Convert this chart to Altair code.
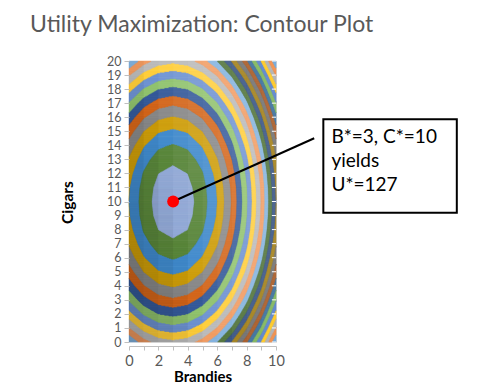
import altair as alt
import numpy as np
import pandas as pd

# ---------------- data ----------------
brandies = list(range(0, 11))          # x grid (B)
cigars = list(range(0, 21))            # y grid (C)
# utility on the grid, one row per cigars value (C = 0 .. 20), columns B = 0 .. 10
utility = [
    [0, 15, 24, 27, 24, 15, 0, -21, -48, -81, -120],
    [19, 34, 43, 46, 43, 34, 19, -2, -29, -62, -101],
    [36, 51, 60, 63, 60, 51, 36, 15, -12, -45, -84],
    [51, 66, 75, 78, 75, 66, 51, 30, 3, -30, -69],
    [64, 79, 88, 91, 88, 79, 64, 43, 16, -17, -56],
    [75, 90, 99, 102, 99, 90, 75, 54, 27, -6, -45],
    [84, 99, 108, 111, 108, 99, 84, 63, 36, 3, -36],
    [91, 106, 115, 118, 115, 106, 91, 70, 43, 10, -29],
    [96, 111, 120, 123, 120, 111, 96, 75, 48, 15, -24],
    [99, 114, 123, 126, 123, 114, 99, 78, 51, 18, -21],
    [100, 115, 124, 127, 124, 115, 100, 79, 52, 19, -20],
    [99, 114, 123, 126, 123, 114, 99, 78, 51, 18, -21],
    [96, 111, 120, 123, 120, 111, 96, 75, 48, 15, -24],
    [91, 106, 115, 118, 115, 106, 91, 70, 43, 10, -29],
    [84, 99, 108, 111, 108, 99, 84, 63, 36, 3, -36],
    [75, 90, 99, 102, 99, 90, 75, 54, 27, -6, -45],
    [64, 79, 88, 91, 88, 79, 64, 43, 16, -17, -56],
    [51, 66, 75, 78, 75, 66, 51, 30, 3, -30, -69],
    [36, 51, 60, 63, 60, 51, 36, 15, -12, -45, -84],
    [19, 34, 43, 46, 43, 34, 19, -2, -29, -62, -101],
    [0, 15, 24, 27, 24, 15, 0, -21, -48, -81, -120],
]
band_edges = list(range(-120, 131, 10))     # contour levels
band_colors = [
    "#5B9BD5", "#ED7D31", "#A5A5A5", "#FFC000", "#4472C4", "#70AD47",
    "#255E91", "#9E480E", "#636363", "#997300", "#264478", "#43682B",
    "#7CAFDD", "#F1975A", "#B7B7B7", "#FFCD33", "#698ED0", "#8CC168",
    "#2F5597", "#D26012", "#848484", "#CC9A00", "#3A86CB", "#548235",
    "#8FA6D4",
]
optimum_b = [3]
optimum_c = [10]
callout_text = ["B*=3, C*=10", "yields", "U*=127"]
title_text = "Utility Maximization: Contour Plot"

# ---------------- build contour bands (linear interpolation of the grid) ----------------
U = np.array(utility, dtype=float)
band_names = [f"{band_edges[k]} - {band_edges[k + 1]}" for k in range(len(band_edges) - 1)]
nb = len(band_names)
dx_s = 0.005
xs = np.arange(0, 10, dx_s) + dx_s / 2
row_h = 0.05
nrows = int(round(20 / row_h))
recs = []
for k in range(nrows):
    c0 = k * row_h
    c1 = c0 + row_h
    cm = (c0 + c1) / 2
    j = min(int(np.floor(cm)), 19)
    t = cm - j
    rowvals = U[j] * (1 - t) + U[j + 1] * t
    vals = np.interp(xs, brandies, rowvals)
    idx = np.clip(np.floor((vals - band_edges[0]) / 10).astype(int), 0, nb - 1)
    change = np.nonzero(np.diff(idx))[0]
    starts = np.r_[0, change + 1]
    ends = np.r_[change + 1, len(xs)]
    for s, e in zip(starts, ends):
        recs.append({"b0": s * dx_s, "b1": e * dx_s, "c0": c0, "c1": c1,
                     "band": band_names[idx[s]]})
bands_df = pd.DataFrame(recs)

# surface lighting per grid cell (Excel's 3-D shading of the contour surface)
shade = []
for j in range(len(cigars) - 1):
    for i in range(len(brandies) - 1):
        dB = ((U[j, i + 1] - U[j, i]) + (U[j + 1, i + 1] - U[j + 1, i])) / 2
        dC = ((U[j + 1, i] - U[j, i]) + (U[j + 1, i + 1] - U[j, i + 1])) / 2
        s = np.tanh(-(dB + 0.6 * dC) / 20)
        s = 0.17 * s if s > 0 else 0.22 * s
        shade.append({"b0": brandies[i], "b1": brandies[i + 1], "c0": cigars[j],
                      "c1": cigars[j + 1], "col": "white" if s > 0 else "black",
                      "op": float(abs(s))})
shade_df = pd.DataFrame(shade)

FONT = "Lato"
xscale = alt.Scale(domain=[0, 10], nice=False, zero=False)
yscale = alt.Scale(domain=[0, 20], nice=False, zero=False)

x_axis = alt.Axis(values=brandies, labelExpr="datum.value % 2 == 0 ? datum.label : ''",
                  grid=False, offset=4, tickSize=4, tickColor="#BFBFBF",
                  domainColor="#BFBFBF", labelFont=FONT, labelFontSize=14.5,
                  labelColor="#595959", labelPadding=4, labelFlush=False,
                  labelOverlap=False, title="Brandies", titleFont=FONT,
                  titleFontSize=15, titleFontWeight="bold", titleColor="black",
                  titleX=73.5, titleY=35, titleBaseline="alphabetic", titleAlign="center",
                  zindex=1)
y_axis = alt.Axis(values=cigars, grid=False, domain=False, tickSize=5,
                  tickColor="#BFBFBF", labelFont=FONT, labelFontSize=12.5,
                  labelColor="#595959", labelPadding=3, labelFlush=False,
                  labelOverlap=False, title="Cigars", titleFont=FONT,
                  titleFontSize=15.5, titleFontWeight="bold", titleColor="black",
                  titleX=-62, titleY=141, titleAngle=270, titleBaseline="middle",
                  titleAlign="center", zindex=1)

X = lambda f: alt.X(f, scale=xscale, axis=x_axis)
Y = lambda f: alt.Y(f, scale=yscale, axis=y_axis)

contours = alt.Chart(bands_df).mark_rect(strokeWidth=0.5).encode(
    x=X("b0:Q"), x2="b1",
    y=Y("c0:Q"), y2="c1",
    color=alt.Color("band:N", scale=alt.Scale(domain=band_names, range=band_colors), legend=None),
    stroke=alt.Stroke("band:N", scale=alt.Scale(domain=band_names, range=band_colors), legend=None),
)

lighting = alt.Chart(shade_df).mark_rect().encode(
    x=X("b0:Q"), x2="b1",
    y=Y("c0:Q"), y2="c1",
    color=alt.Color("col:N", scale=None),
    opacity=alt.Opacity("op:Q", scale=None),
)

edge_df = pd.DataFrame({"c": cigars, "b0": [9.72] * len(cigars), "b1": [10] * len(cigars)})
edge_ticks = alt.Chart(edge_df).mark_rule(color="white", strokeWidth=1).encode(
    x=X("b0:Q"), x2="b1",
    y=Y("c:Q"),
)

opt_df = pd.DataFrame({"b": optimum_b, "c": optimum_c})

# callout geometry (in data units)
line_df = pd.DataFrame({"b": optimum_b, "c": optimum_c, "b2": [12.6], "c2": [14.5]})
leader = alt.Chart(line_df).mark_rule(color="black", strokeWidth=2).encode(
    x=X("b:Q"), x2="b2",
    y=Y("c:Q"), y2="c2",
)

dot = alt.Chart(opt_df).mark_circle(color="#FF0000", opacity=1, size=140).encode(
    x=X("b:Q"),
    y=Y("c:Q"),
)

box_df = pd.DataFrame({"b0": [13.22], "b1": [22.3], "c0": [9.2], "c1": [15.85]})
box = alt.Chart(box_df).mark_rect(fill="white", stroke="black", strokeWidth=2).encode(
    x=X("b0:Q"), x2="b1",
    y=Y("c0:Q"), y2="c1",
)

text_df = pd.DataFrame({"t": callout_text, "b": [13.77] * 3, "c": [14.16, 12.45, 10.74]})
box_text = alt.Chart(text_df).mark_text(align="left", baseline="alphabetic", font=FONT,
                                         fontSize=19, color="black").encode(
    x=X("b:Q"),
    y=Y("c:Q"),
    text="t:N",
)

chart = alt.layer(contours, lighting, edge_ticks, leader, dot, box, box_text).properties(
    width=147, height=281,
    title=alt.TitleParams(title_text, anchor="start", frame="group", font=FONT,
                          fontSize=23, fontWeight="normal", color="#595959",
                          dx=-99, offset=18),
    autosize=alt.AutoSizeParams(type="none"),
    padding={"left": 121, "top": 53, "right": 193, "bottom": 42},
).configure_view(stroke=None).configure(background="white")

chart.save("out.html", embed_options={"renderer": "svg", "actions": False})
